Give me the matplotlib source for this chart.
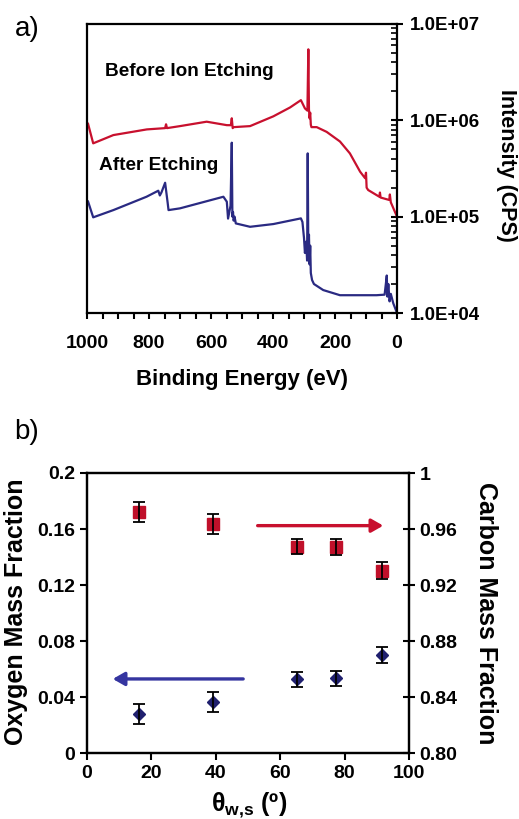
import matplotlib
matplotlib.use("Agg")
import matplotlib.pyplot as plt
from matplotlib.ticker import MultipleLocator, LogLocator, NullFormatter, FixedLocator, FixedFormatter

plt.rcParams['font.family'] = ['Liberation Sans', 'DejaVu Sans']
plt.rcParams['font.weight'] = 'bold'
plt.rcParams['mathtext.fontset'] = 'custom'
plt.rcParams['mathtext.bf'] = 'Liberation Sans:bold'
plt.rcParams['mathtext.rm'] = 'Liberation Sans:bold'

# ---------------- data: panel a (XPS survey spectra) ----------------
before_E = [1000, 997, 980, 915, 807, 748, 745, 742, 700, 614, 549, 536, 533, 530, 527,
            474, 399, 345, 310, 297, 289, 286, 284, 282, 280, 278, 276, 259, 227, 184,
            152, 119, 103, 100, 98, 93, 57, 55, 53, 25, 23, 20, 0]
before_I = [8.93e5, 9.3e5, 5.77e5, 7.03e5, 8.05e5, 8.3e5, 9.1e5, 8.3e5, 8.71e5, 9.68e5,
            8.91e5, 8.9e5, 1.05e6, 8.3e5, 8.5e5,
            8.71e5, 1.10e6, 1.36e6, 1.62e6, 1.33e6, 1.26e6, 5.46e6, 1.3e6, 1.05e6,
            1.2e6, 9.0e5, 8.5e5, 8.5e5, 7.59e5, 6.03e5,
            4.54e5, 2.93e5, 2.51e5, 2.86e5, 2.0e5, 1.89e5, 1.61e5, 1.78e5, 1.58e5,
            1.49e5, 1.70e5, 1.41e5, 1.0e5]

after_E = [1000, 997, 980, 915, 808, 770, 765, 760, 748, 740, 737, 700, 560, 549, 545,
           537, 533, 531, 529, 527, 524, 520, 474, 399, 310, 305, 300, 297, 293, 290,
           288, 286, 284, 282, 280, 278, 274, 268, 238, 184, 66, 40, 36, 33, 31, 28,
           24, 20, 12, 0]
after_I = [1.37e5, 1.45e5, 9.84e4, 1.17e5, 1.61e5, 1.86e5, 1.66e5, 1.78e5, 2.25e5,
           1.41e5, 1.17e5, 1.22e5, 1.61e5, 1.43e5, 9.55e4,
           1.3e5, 5.86e5, 1.0e5, 1.12e5, 9.1e4, 1.0e5, 8.51e4, 7.85e4, 8.38e4,
           9.6e4, 8.8e4, 6.0e4, 4.2e4, 5.5e4, 3.5e4,
           4.54e5, 4.0e4, 6.5e4, 3.2e4, 5.0e4, 2.6e4, 2.2e4, 2.0e4, 1.73e4, 1.53e4,
           1.53e4, 1.55e4, 2.0e4, 2.45e4, 1.48e4, 2.0e4,
           1.32e4, 1.58e4, 1.26e4, 1.0e4]

a_xticks = [1000, 800, 600, 400, 200, 0]
a_yticks = [1e4, 1e5, 1e6, 1e7]
a_yticklabels = ['1.0E+04', '1.0E+05', '1.0E+06', '1.0E+07']

# ---------------- data: panel b (mass fractions) ----------------
theta = [16.1, 39.2, 65.3, 77.3, 91.5]
carbon = [0.9719, 0.9636, 0.9474, 0.9472, 0.9302]
carbon_err = [0.0071, 0.0071, 0.0055, 0.0055, 0.0060]
oxygen = [0.0279, 0.0367, 0.0527, 0.0534, 0.0702]
oxygen_err = [0.0071, 0.0071, 0.0054, 0.0054, 0.0057]

b_xticks = [0, 20, 40, 60, 80, 100]
b_left_ticks = [0, 0.04, 0.08, 0.12, 0.16, 0.2]
b_left_labels = ['0', '0.04', '0.08', '0.12', '0.16', '0.2']
b_right_ticks = [0.80, 0.84, 0.88, 0.92, 0.96, 1.0]
b_right_labels = ['0.80', '0.84', '0.88', '0.92', '0.96', '1']

RED = '#c8102e'
NAVY = '#2a2a82'
SQ_RED = '#c0102a'
DIA = '#1f1f6e'
ARROW_BLUE = '#3535a0'

W, H = 519, 819
fig = plt.figure(figsize=(W / 100, H / 100), dpi=100)

def box(l, t, r, b):
    return [l / W, 1 - b / H, (r - l) / W, (b - t) / H]

# ---------------- panel a ----------------
axa = fig.add_axes(box(87, 24, 397, 313))
axa.plot(before_E, before_I, color=RED, lw=1.6)
axa.plot(after_E, after_I, color=NAVY, lw=1.6)
axa.set_yscale('log')
axa.set_xlim(1000, 0)
axa.set_ylim(1e4, 1e7)
axa.yaxis.tick_right()
axa.yaxis.set_major_locator(FixedLocator(a_yticks))
axa.yaxis.set_major_formatter(FixedFormatter(a_yticklabels))
axa.yaxis.set_minor_locator(LogLocator(base=10, subs=range(2, 10), numticks=20))
axa.yaxis.set_minor_formatter(NullFormatter())
axa.set_xticks(a_xticks)
axa.xaxis.set_minor_locator(MultipleLocator(50))
axa.tick_params(axis='y', which='major', direction='inout', length=9, width=1.5,
                labelsize=13.5, pad=5)
axa.tick_params(axis='y', which='minor', direction='in', length=4, width=1.2)
axa.tick_params(axis='x', which='both', direction='out', length=4, width=1.5,
                labelsize=14, pad=12)
for s in axa.spines.values():
    s.set_linewidth(1.6)
for lab in axa.get_xticklabels() + axa.get_yticklabels():
    lab.set_fontweight('bold')

axa.text(105 / W, 1 - 72 / H, 'Before Ion Etching', transform=fig.transFigure,
         fontsize=13.7, fontweight='bold', ha='left', va='center')
axa.text(99 / W, 1 - 165 / H, 'After Etching', transform=fig.transFigure,
         fontsize=13.7, fontweight='bold', ha='left', va='center')

fig.text(507 / W, 1 - 165 / H, 'Intensity (CPS)', rotation=-90, fontsize=15.5,
         fontweight='bold', ha='center', va='center')
fig.text(242 / W, 1 - 379 / H, 'Binding Energy (eV)', fontsize=16,
         fontweight='bold', ha='center', va='center')
fig.text(27 / W, 1 - 29 / H, 'a)', fontsize=20, fontweight='normal',
         ha='center', va='center')

# ---------------- panel b ----------------
axb = fig.add_axes(box(87, 473, 409, 753))
axc = axb.twinx()
axb.plot(theta, oxygen, 'D', ms=6.5, color=DIA, mec=DIA, zorder=3)
axb.errorbar(theta, oxygen, yerr=oxygen_err, fmt='none', ecolor='black',
             elinewidth=1.3, capsize=4.5, capthick=1.3, zorder=4)
axc.plot(theta, carbon, 's', ms=9, color=SQ_RED, mec=SQ_RED, zorder=3)
axc.errorbar(theta, carbon, yerr=carbon_err, fmt='none', ecolor='black',
             elinewidth=1.3, capsize=4.5, capthick=1.3, zorder=4)
axb.set_xlim(0, 100)
axb.set_ylim(0, 0.2)
axc.set_ylim(0.8, 1.0)
axb.set_xticks(b_xticks)
axb.set_yticks(b_left_ticks)
axb.set_yticklabels(b_left_labels)
axc.set_yticks(b_right_ticks)
axc.set_yticklabels(b_right_labels)
axb.tick_params(axis='both', direction='out', length=5, width=1.5, labelsize=14)
axc.tick_params(axis='y', direction='inout', length=9, width=1.5, labelsize=14, pad=3)
for ax in (axb, axc):
    for s in ax.spines.values():
        s.set_linewidth(1.6)
    for lab in ax.get_xticklabels() + ax.get_yticklabels():
        lab.set_fontweight('bold')

axc.annotate('', xy=(92, 0.9624), xytext=(53, 0.9624),
             arrowprops=dict(arrowstyle='-|>,head_length=0.7,head_width=0.4',
                             lw=2.4, color=RED, shrinkA=0, shrinkB=0))
axb.annotate('', xy=(8, 0.0529), xytext=(48.5, 0.0529),
             arrowprops=dict(arrowstyle='-|>,head_length=0.7,head_width=0.4',
                             lw=2.4, color=ARROW_BLUE, shrinkA=0, shrinkB=0))

fig.text(16 / W, 1 - 612 / H, 'Oxygen Mass Fraction', rotation=90, fontsize=18,
         fontweight='bold', ha='center', va='center')
fig.text(486 / W, 1 - 613 / H, 'Carbon Mass Fraction', rotation=-90, fontsize=18,
         fontweight='bold', ha='center', va='center')
fig.text(249 / W, 1 - 805 / H, r'θ$_{\mathbf{w{,}s}}$ (º)', fontsize=18,
         fontweight='bold', ha='center', va='center')
fig.text(27 / W, 1 - 432 / H, 'b)', fontsize=20, fontweight='normal',
         ha='center', va='center')

fig.savefig('out.png', dpi=100)
